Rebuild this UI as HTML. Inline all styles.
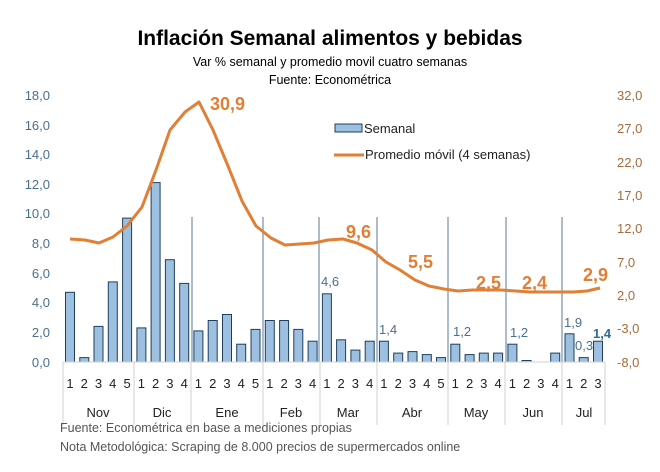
<!DOCTYPE html>
<html><head><meta charset="utf-8"><style>
body{margin:0;background:#fff;}
svg text{font-family:"Liberation Sans",sans-serif;}
</style></head><body>
<svg width="660" height="467" viewBox="0 0 660 467" xmlns="http://www.w3.org/2000/svg">
<rect width="660" height="467" fill="#fff"/>
<text x="330" y="45" text-anchor="middle" font-size="21" font-weight="bold" fill="#000">Inflación Semanal alimentos y bebidas</text>
<text x="330" y="66" text-anchor="middle" font-size="12.5" fill="#000">Var % semanal y promedio movil cuatro semanas</text>
<text x="330" y="84" text-anchor="middle" font-size="12.5" fill="#000">Fuente: Econométrica</text>
<g font-size="13" fill="#4a6f8f" text-anchor="end">
<text x="50" y="100">18,0</text><text x="50" y="130">16,0</text><text x="50" y="159">14,0</text><text x="50" y="189">12,0</text><text x="50" y="218">10,0</text><text x="50" y="248">8,0</text><text x="50" y="278">6,0</text><text x="50" y="307">4,0</text><text x="50" y="337">2,0</text><text x="50" y="367">0,0</text>
</g>
<g font-size="13" fill="#a86a3a" text-anchor="start">
<text x="617" y="100">32,0</text><text x="617" y="133">27,0</text><text x="617" y="167">22,0</text><text x="617" y="200">17,0</text><text x="617" y="233">12,0</text><text x="617" y="267">7,0</text><text x="617" y="300">2,0</text><text x="617" y="333">-3,0</text><text x="617" y="367">-8,0</text>
</g>
<g stroke="#5a7a96" stroke-width="1">
<line x1="192" y1="217" x2="192" y2="362"/><line x1="263" y1="217" x2="263" y2="362"/><line x1="319" y1="217" x2="319" y2="362"/><line x1="377" y1="217" x2="377" y2="362"/><line x1="448" y1="217" x2="448" y2="362"/><line x1="506" y1="217" x2="506" y2="362"/><line x1="562" y1="217" x2="562" y2="362"/>
</g>
<g fill="#9dbfe0" stroke="#1f3f5f" stroke-width="1">
<rect x="65.5" y="292.3" width="9" height="69.7"/>
<rect x="79.8" y="357.6" width="9" height="4.4"/>
<rect x="94.0" y="326.4" width="9" height="35.6"/>
<rect x="108.3" y="281.9" width="9" height="80.1"/>
<rect x="122.6" y="218.1" width="9" height="143.9"/>
<rect x="136.9" y="327.9" width="9" height="34.1"/>
<rect x="151.1" y="182.6" width="9" height="179.4"/>
<rect x="165.4" y="259.7" width="9" height="102.3"/>
<rect x="179.7" y="283.4" width="9" height="78.6"/>
<rect x="193.9" y="330.9" width="9" height="31.1"/>
<rect x="208.2" y="320.5" width="9" height="41.5"/>
<rect x="222.5" y="314.5" width="9" height="47.5"/>
<rect x="236.7" y="344.2" width="9" height="17.8"/>
<rect x="251.0" y="329.4" width="9" height="32.6"/>
<rect x="265.3" y="320.5" width="9" height="41.5"/>
<rect x="279.6" y="320.5" width="9" height="41.5"/>
<rect x="293.8" y="329.4" width="9" height="32.6"/>
<rect x="308.1" y="341.2" width="9" height="20.8"/>
<rect x="322.4" y="293.8" width="9" height="68.2"/>
<rect x="336.6" y="339.8" width="9" height="22.2"/>
<rect x="350.9" y="350.1" width="9" height="11.9"/>
<rect x="365.2" y="341.2" width="9" height="20.8"/>
<rect x="379.4" y="341.2" width="9" height="20.8"/>
<rect x="393.7" y="353.1" width="9" height="8.9"/>
<rect x="408.0" y="351.6" width="9" height="10.4"/>
<rect x="422.3" y="354.6" width="9" height="7.4"/>
<rect x="436.5" y="357.6" width="9" height="4.4"/>
<rect x="450.8" y="344.2" width="9" height="17.8"/>
<rect x="465.1" y="354.6" width="9" height="7.4"/>
<rect x="479.3" y="353.1" width="9" height="8.9"/>
<rect x="493.6" y="353.1" width="9" height="8.9"/>
<rect x="507.9" y="344.2" width="9" height="17.8"/>
<rect x="522.1" y="360.5" width="9" height="1.5"/>
<rect x="550.7" y="353.1" width="9" height="8.9"/>
<rect x="565.0" y="333.8" width="9" height="28.2"/>
<rect x="579.2" y="357.6" width="9" height="4.4"/>
<rect x="593.5" y="341.2" width="9" height="20.8"/>
</g>
<g stroke="#d0d0d0" stroke-width="1" fill="none">
<line x1="63" y1="362" x2="605" y2="362"/>
<line x1="63" y1="362" x2="63" y2="425"/><line x1="134" y1="362" x2="134" y2="425"/><line x1="191" y1="362" x2="191" y2="425"/><line x1="263" y1="362" x2="263" y2="425"/><line x1="320" y1="362" x2="320" y2="425"/><line x1="377" y1="362" x2="377" y2="425"/><line x1="448" y1="362" x2="448" y2="425"/><line x1="505" y1="362" x2="505" y2="425"/><line x1="562" y1="362" x2="562" y2="425"/><line x1="605" y1="362" x2="605" y2="425"/>
</g>
<g font-size="13" fill="#222" text-anchor="middle">
<text x="70" y="388">1</text><text x="84.3" y="388">2</text><text x="98.5" y="388">3</text><text x="112.8" y="388">4</text><text x="127.1" y="388">5</text>
<text x="141.4" y="388">1</text><text x="155.6" y="388">2</text><text x="169.9" y="388">3</text><text x="184.2" y="388">4</text>
<text x="198.4" y="388">1</text><text x="212.7" y="388">2</text><text x="227" y="388">3</text><text x="241.2" y="388">4</text><text x="255.5" y="388">5</text>
<text x="269.8" y="388">1</text><text x="284.1" y="388">2</text><text x="298.3" y="388">3</text><text x="312.6" y="388">4</text>
<text x="326.9" y="388">1</text><text x="341.1" y="388">2</text><text x="355.4" y="388">3</text><text x="369.7" y="388">4</text>
<text x="383.9" y="388">1</text><text x="398.2" y="388">2</text><text x="412.5" y="388">3</text><text x="426.8" y="388">4</text><text x="441" y="388">5</text>
<text x="455.3" y="388">1</text><text x="469.6" y="388">2</text><text x="483.8" y="388">3</text><text x="498.1" y="388">4</text>
<text x="512.4" y="388">1</text><text x="526.6" y="388">2</text><text x="540.9" y="388">3</text><text x="555.2" y="388">4</text>
<text x="569.5" y="388">1</text><text x="583.7" y="388">2</text><text x="598" y="388">3</text>
</g>
<g font-size="13" fill="#222" text-anchor="middle">
<text x="98" y="417">Nov</text><text x="162" y="417">Dic</text><text x="227" y="417">Ene</text><text x="291" y="417">Feb</text><text x="348" y="417">Mar</text><text x="412" y="417">Abr</text><text x="476" y="417">May</text><text x="533" y="417">Jun</text><text x="584" y="417">Jul</text>
</g>
<polyline fill="none" stroke="#e07f35" stroke-width="3" stroke-linejoin="round" points="70,239 85,240 99,243 113,237 127,226 142,207 156,170 170,130 185,112 199,102 213,130 228,166 242,201 256,226 271,238 285,245 300,244 314,243 328,240 343,239 357,243 372,250 386,262 400,270 415,280 429,286 444,289 458,291 472,290 487,290 501,290 516,291 530,292 544,292 559,292 573,292 587,291 600,288"/>
<g font-size="18" font-weight="bold" fill="#e07f35">
<text x="210" y="110">30,9</text><text x="346" y="238">9,6</text><text x="408" y="268">5,5</text><text x="476" y="289">2,5</text><text x="522" y="289">2,4</text><text x="583" y="281">2,9</text>
</g>
<g font-size="13" fill="#4a6f8f">
<text x="321" y="286">4,6</text><text x="379" y="334">1,4</text><text x="453" y="336">1,2</text><text x="510" y="337">1,2</text><text x="564" y="327">1,9</text><text x="575" y="350">0,3</text><text x="593" y="338" font-weight="bold" fill="#2e6a9a">1,4</text>
</g>
<rect x="335" y="124" width="27" height="8" fill="#9dbfe0" stroke="#1f3f5f" stroke-width="1"/>
<text x="364" y="133" font-size="13" fill="#222">Semanal</text>
<line x1="334" y1="155" x2="364" y2="155" stroke="#e07f35" stroke-width="3"/>
<text x="365" y="159" font-size="13" fill="#222">Promedio móvil (4 semanas)</text>
<text x="60" y="432" font-size="12.5" fill="#555">Fuente:  Econométrica en base a mediciones propias</text>
<text x="60" y="451" font-size="12.5" fill="#555">Nota Metodológica: Scraping de 8.000 precios de supermercados online</text>
</svg>
</body></html>
